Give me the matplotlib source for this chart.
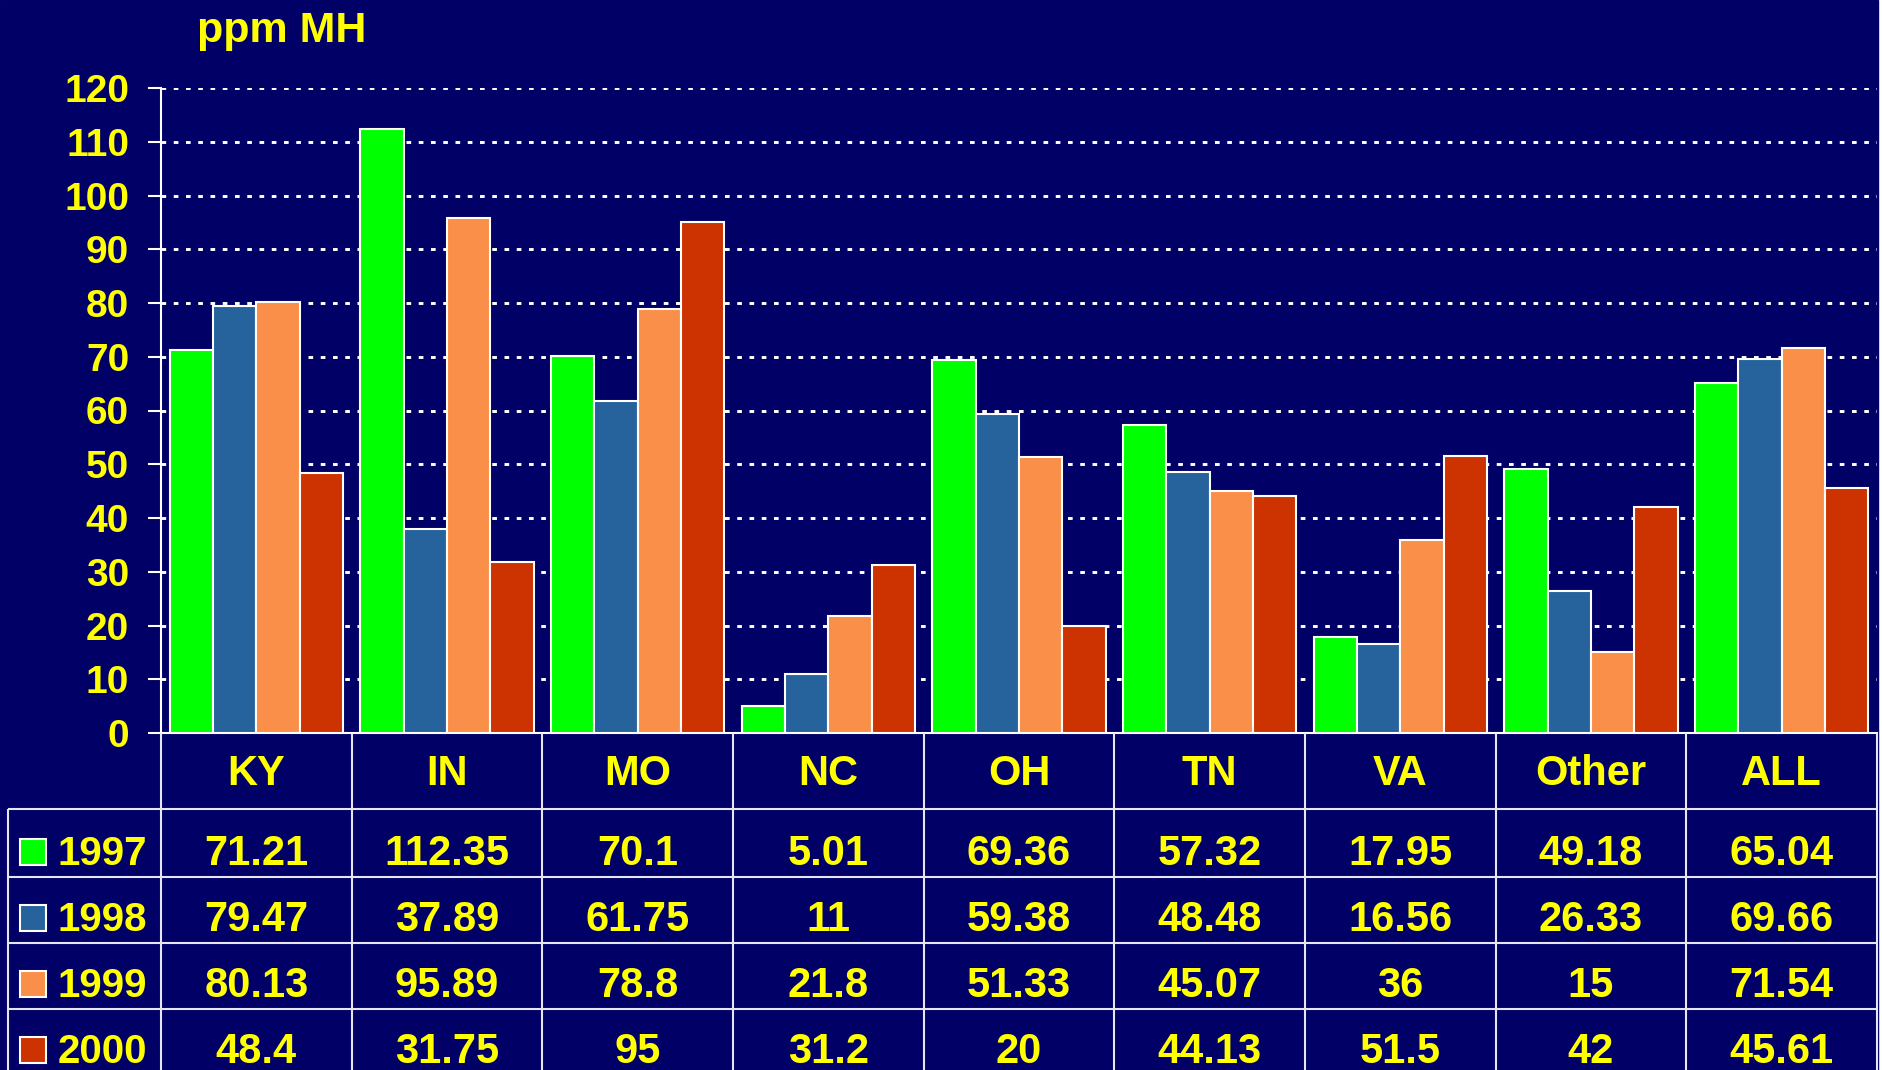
import numpy as np
import matplotlib.pyplot as plt
from matplotlib.patches import Rectangle

plt.rcParams['font.family'] = ['Liberation Sans', 'DejaVu Sans']
plt.rcParams['font.weight'] = 'bold'

states = ['KY', 'IN', 'MO', 'NC', 'OH', 'TN', 'VA', 'Other', 'ALL']
years = ['1997', '1998', '1999', '2000']
mh_1997 = [71.21, 112.35, 70.1, 5.01, 69.36, 57.32, 17.95, 49.18, 65.04]
mh_1998 = [79.47, 37.89, 61.75, 11, 59.38, 48.48, 16.56, 26.33, 69.66]
mh_1999 = [80.13, 95.89, 78.8, 21.8, 51.33, 45.07, 36, 15, 71.54]
mh_2000 = [48.4, 31.75, 95, 31.2, 20, 44.13, 51.5, 42, 45.61]
series = [mh_1997, mh_1998, mh_1999, mh_2000]

colors = ['#00ff00', '#26639c', '#f98f48', '#cc3300']
navy = '#000066'
yellow = '#ffff00'
line_c = '#e6e6f0'

W, H = 1883, 1070
fig = plt.figure(figsize=(W / 100, H / 100), dpi=100)
fig.patch.set_facecolor('white')
fig.add_artist(Rectangle((0, 0), 1878 / W, 1, transform=fig.transFigure,
                         color=navy, zorder=-10))

# bar chart area (pixel layout of the slide)
ax_l, ax_r, ax_top, ax_bot = 161, 1877, 88, 733
ax = fig.add_axes([ax_l / W, (H - ax_bot) / H, (ax_r - ax_l) / W, (ax_bot - ax_top) / H])
ax.set_facecolor('none')

x = np.arange(len(states))
w = 0.227
for k, (vals, c) in enumerate(zip(series, colors)):
    ax.bar(x + (k - 1.5) * w, vals, w, color=c, edgecolor='white', linewidth=1.5, zorder=3)

ax.set_xlim(-0.5, len(states) - 0.5)
ax.set_ylim(0, 120)
ax.set_yticks(range(0, 121, 10))
ax.set_xticks([])
ax.yaxis.grid(True, color='white', lw=2.1, linestyle=(0, (1.6, 2.6)))
ax.set_axisbelow(True)
for s in ['top', 'right']:
    ax.spines[s].set_visible(False)
for s in ['left', 'bottom']:
    ax.spines[s].set_color('white')
    ax.spines[s].set_linewidth(1.5)
ax.tick_params(axis='y', colors='white', length=9.4, width=1.5, pad=13.5,
               labelcolor=yellow, labelsize=28)

fig.text(197 / W, 1 - 42 / H, 'ppm MH', color=yellow, fontsize=31,
         fontweight='bold', ha='left', va='baseline')

# data table under the chart
cw = (ax_r - ax_l) / len(states)
x_left = -0.5 - (ax_l - 8) / cw
tx = fig.add_axes([8 / W, 0, (ax_r - 8) / W, (H - ax_bot) / H])
tx.set_xlim(x_left, len(states) - 0.5)
tx.set_ylim(H, ax_bot)
tx.axis('off')

row_lines = [809, 877, 943, 1009]
tx.hlines(row_lines, x_left, len(states) - 0.5, colors=line_c, lw=1.5, clip_on=False)
tx.vlines(np.arange(len(states) + 1) - 0.5, ax_bot, H, colors=line_c, lw=1.5, clip_on=False)
tx.vlines(x_left, row_lines[0], H, colors=line_c, lw=1.5, clip_on=False)

for i, s in enumerate(states):
    tx.text(i, 785, s, ha='center', va='baseline', fontsize=30, color=yellow)

baselines = [865, 931, 997, 1063]
for yr, vals, c, b in zip(years, series, colors, baselines):
    tx.add_patch(Rectangle((x_left + 12 / cw, b - 26), 26 / cw, 26, facecolor=c,
                           edgecolor='white', lw=1.5, clip_on=False))
    tx.text(x_left + 50 / cw, b, yr, ha='left', va='baseline', fontsize=29, color=yellow)
    for i, v in enumerate(vals):
        tx.text(i, b, f'{v:g}', ha='center', va='baseline', fontsize=30, color=yellow)

fig.savefig('out.png', dpi=100, facecolor=fig.get_facecolor())
